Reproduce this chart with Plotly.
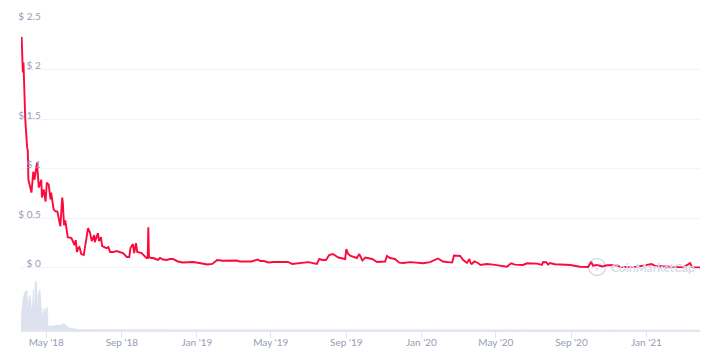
import pandas as pd
import plotly.graph_objects as go

START = pd.Timestamp("2018-03-21")
price_days = [1, 2, 3, 4, 5, 6, 7, 10, 11, 12,
              17, 20, 22, 26, 29, 33, 34, 37, 40, 42,
              45, 48, 49, 53, 56, 59, 61, 64, 67, 68,
              70, 72, 76, 82, 87, 89, 91, 93, 95, 98,
              102, 106, 109, 112, 115, 119, 120, 125, 127, 130,
              132, 139, 142, 145, 150, 155, 161, 166, 172, 176,
              178, 182, 184, 187, 189, 196, 204, 206, 207, 208,
              212, 215, 219, 223, 226, 231, 237, 242, 247, 255,
              263, 271, 280, 290, 303, 311, 319, 328, 340, 350,
              356, 362, 369, 375, 385, 389, 395, 402, 411, 421,
              434, 441, 454, 467, 481, 485, 490, 496, 501, 507,
              516, 527, 529, 532, 536, 540, 546, 550, 555, 560,
              571, 579, 585, 592, 595, 600, 608, 615, 621, 633,
              654, 665, 678, 686, 701, 704, 714, 719, 725, 729,
              731, 733, 737, 743, 747, 757, 768, 780, 790, 797,
              803, 816, 823, 839, 847, 849, 854, 857, 860, 868,
              880, 893, 909, 922, 927, 930, 936, 945, 953, 969,
              974, 990, 1002, 1014, 1025, 1031, 1051, 1065, 1077, 1088,
              1091, 1104]
price_vals = [2.33, 2.1, 1.97, 2.07, 1.9, 1.73, 1.49, 1.21, 1.19, 0.89,
              0.76, 0.97, 0.89, 1.06, 0.81, 0.89, 0.71, 0.79, 0.67, 0.86,
              0.84, 0.69, 0.76, 0.59, 0.57, 0.57, 0.52, 0.42, 0.71, 0.66,
              0.43, 0.48, 0.31, 0.30, 0.23, 0.28, 0.16, 0.20, 0.21, 0.14,
              0.13, 0.31, 0.40, 0.36, 0.27, 0.33, 0.26, 0.35, 0.27, 0.31,
              0.22, 0.20, 0.21, 0.16, 0.16, 0.17, 0.16, 0.15, 0.11, 0.11,
              0.20, 0.24, 0.15, 0.25, 0.16, 0.15, 0.10, 0.10, 0.41, 0.11,
              0.10, 0.10, 0.09, 0.08, 0.10, 0.085, 0.08, 0.09, 0.09, 0.065,
              0.055, 0.06, 0.06, 0.05, 0.035, 0.04, 0.08, 0.072, 0.07, 0.075,
              0.065, 0.065, 0.07, 0.065, 0.085, 0.07, 0.07, 0.055, 0.06, 0.06,
              0.06, 0.04, 0.05, 0.058, 0.04, 0.09, 0.08, 0.08, 0.13, 0.14,
              0.105, 0.09, 0.19, 0.14, 0.12, 0.11, 0.10, 0.14, 0.075, 0.105,
              0.09, 0.06, 0.06, 0.065, 0.12, 0.10, 0.09, 0.053, 0.05, 0.058,
              0.047, 0.058, 0.095, 0.065, 0.054, 0.125, 0.12, 0.08, 0.05, 0.09,
              0.05, 0.04, 0.065, 0.05, 0.03, 0.04, 0.033, 0.02, 0.013, 0.047,
              0.033, 0.03, 0.047, 0.043, 0.03, 0.06, 0.057, 0.033, 0.05, 0.037,
              0.033, 0.03, 0.012, 0.01, 0.06, 0.023, 0.03, 0.015, 0.027, 0.03,
              0.01, 0.012, 0.012, 0.025, 0.04, 0.02, 0.012, 0.01, 0.006, 0.048,
              0.008, 0.006]
assert len(price_days) == len(price_vals)

volume_days = [0, 2, 3, 5, 6, 8, 10, 11, 12, 13, 15, 18, 19, 20, 22, 23, 25, 27, 28, 30, 31, 33, 35, 37, 39, 41, 43, 44, 46, 47, 50, 52, 55, 60, 65, 70, 75, 77,
               80, 85, 90, 95, 100, 120, 160, 400, 1104]
volume_vals = [6, 14, 15, 18, 19, 19.5, 20, 9, 12, 16.5, 17.5, 8, 15, 20.5, 8.5, 24, 24.5, 8.5, 18, 20, 20.5, 11, 6.5, 11, 8.5, 11, 11.5, 2.5, 1.5, 2, 2, 2.2, 2.1, 2.5,
               2.5, 3.3, 1.6, 1.2, 1, 0.6, 0.4, 0.2, 0.2, 0.1, 0.05, 0.02, 0.01]
assert len(volume_days) == len(volume_vals)

y_ticks = [0, 0.5, 1, 1.5, 2, 2.5]
y_labels = ["$ 0", "$ 0.5", "$ 1", "$ 1.5", "$ 2", "$ 2.5"]
x_ticks = ["2018-05-01", "2018-09-01", "2019-01-01", "2019-05-01", "2019-09-01", "2020-01-01", "2020-05-01", "2020-09-01", "2021-01-01"]
x_labels = ["May '18", "Sep '18", "Jan '19", "May '19", "Sep '19", "Jan '20", "May '20", "Sep '20", "Jan '21"]

to_dates = lambda days: [START + pd.Timedelta(days=d) for d in days]
FONT = "Lato"
TXT = "#939db3"
WM = "#d5dbe8"

fig = go.Figure()
fig.add_trace(go.Scatter(x=to_dates(volume_days), y=volume_vals, mode="lines", yaxis="y",
                         line=dict(color="rgba(205,212,230,0.6)", width=0.5), fill="tozeroy",
                         fillcolor="rgba(205,212,230,0.68)", hoverinfo="skip"))
fig.add_trace(go.Scatter(x=to_dates(price_days), y=price_vals, mode="lines", yaxis="y2",
                         line=dict(color="#fb0a3c", width=1.9)))

cx, cy, r = (597 - 21) / 679, (330 - 267) / 310, 8.5
fx = lambda dx: cx + dx / 679
fy = lambda dy: cy + dy / 310
logo = "M{} {} L{} {} L{} {} L{} {} L{} {}".format(fx(-5), fy(-2), fx(-3), fy(3), fx(0), fy(-3), fx(3), fy(3), fx(5), fy(-2))
fig.update_layout(
    width=722, height=359, margin=dict(l=21, r=22, t=20, b=29), showlegend=False,
    paper_bgcolor="white", plot_bgcolor="white", font=dict(family=FONT, size=10, color=TXT),
    xaxis=dict(type="date", automargin=False, range=[START, START + pd.Timedelta(days=1104)], tickvals=x_ticks, ticktext=x_labels,
               showgrid=False, zeroline=False, showline=True, linecolor="#e2e6f2", linewidth=2,
               ticks="outside", ticklen=6, tickcolor="#e2e6f2", ticklabelstandoff=-4, tickfont=dict(size=10, color=TXT)),
    yaxis=dict(range=[0, 155], visible=False, automargin=False),
    yaxis2=dict(overlaying="y", automargin=False, anchor="free", position=0.029, side="left", range=[-0.626, 2.5],
                tickvals=y_ticks, ticktext=y_labels, ticks="", showline=False, zeroline=False,
                showgrid=True, gridcolor="#f2f3f7", gridwidth=1, ticklabelshift=-4,
                tickfont=dict(size=10, color=TXT)),
    shapes=[dict(type="circle", xref="paper", yref="paper", layer="below",
                 x0=fx(-r), x1=fx(r), y0=fy(-r), y1=fy(r), line=dict(color=WM, width=1.5)),
            dict(type="path", xref="paper", yref="paper", layer="below", path=logo, line=dict(color=WM, width=1.3))],
    annotations=[dict(text="<b>CoinMarketCap</b>", xref="paper", yref="paper", x=(609 - 21) / 679, y=cy,
                      xanchor="left", yanchor="middle", showarrow=False,
                      font=dict(family=FONT, size=12, color=WM))],
)
fig.write_html("out.html", config=dict(displayModeBar=False),
               post_script="document.body.style.margin='0';document.body.style.overflow='hidden';")
